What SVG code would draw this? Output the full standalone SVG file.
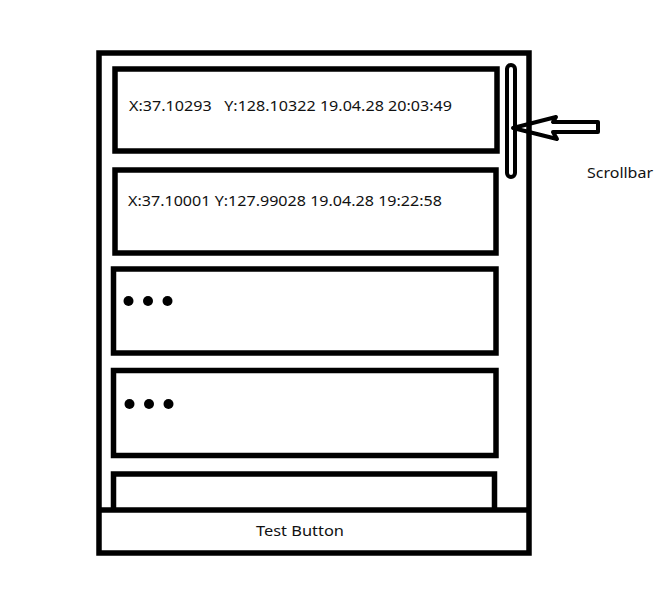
<svg xmlns="http://www.w3.org/2000/svg" width="658" height="607" viewBox="0 0 658 607">
<style>
.box{fill:none;stroke:#000;stroke-width:5.5}
.txt{font-family:"Noto Sans","Open Sans",sans-serif;font-size:15px;fill:#111}
.dot{fill:#000}
</style>
<rect width="658" height="607" fill="#fff"/>
<g id="frame">
<rect class="box" x="99" y="53" width="430" height="500"/>
</g>
<g id="item1">
<rect class="box" x="115" y="69" width="382" height="82"/>
<text class="txt" x="129" y="111" xml:space="preserve" textLength="323" lengthAdjust="spacingAndGlyphs">X:37.10293   Y:128.10322 19.04.28 20:03:49</text>
</g>
<g id="item2">
<rect class="box" x="115" y="170" width="381" height="83"/>
<text class="txt" x="128" y="206" textLength="314" lengthAdjust="spacingAndGlyphs">X:37.10001 Y:127.99028 19.04.28 19:22:58</text>
</g>
<g id="item3">
<rect class="box" x="113.5" y="269" width="382.5" height="84"/>
<circle class="dot" cx="128.5" cy="301" r="5"/>
<circle class="dot" cx="148" cy="301" r="5"/>
<circle class="dot" cx="167.5" cy="301" r="5"/>
</g>
<g id="item4">
<rect class="box" x="113.5" y="370.5" width="382.5" height="85"/>
<circle class="dot" cx="129.5" cy="404" r="5"/>
<circle class="dot" cx="149" cy="404" r="5"/>
<circle class="dot" cx="168.5" cy="404" r="5"/>
</g>
<g id="item5">
<path class="box" d="M113.5,510 V474 H494.5 V510"/>
</g>
<g id="button">
<line x1="99" y1="510" x2="529" y2="510" stroke="#000" stroke-width="5.5"/>
<text class="txt" x="256" y="536" textLength="88" lengthAdjust="spacingAndGlyphs">Test Button</text>
</g>
<g id="scrollbar">
<rect x="507" y="65" width="8" height="112" rx="4" fill="none" stroke="#000" stroke-width="4"/>
<text class="txt" x="587" y="178" textLength="66" lengthAdjust="spacingAndGlyphs">Scrollbar</text>
</g>
<g id="connectors">
<path d="M513,128 L556,117 L553,122 L598,122 L598,132 L553,132 L557,139 Z" fill="none" stroke="#000" stroke-width="4" stroke-linejoin="round"/>
</g>
</svg>
